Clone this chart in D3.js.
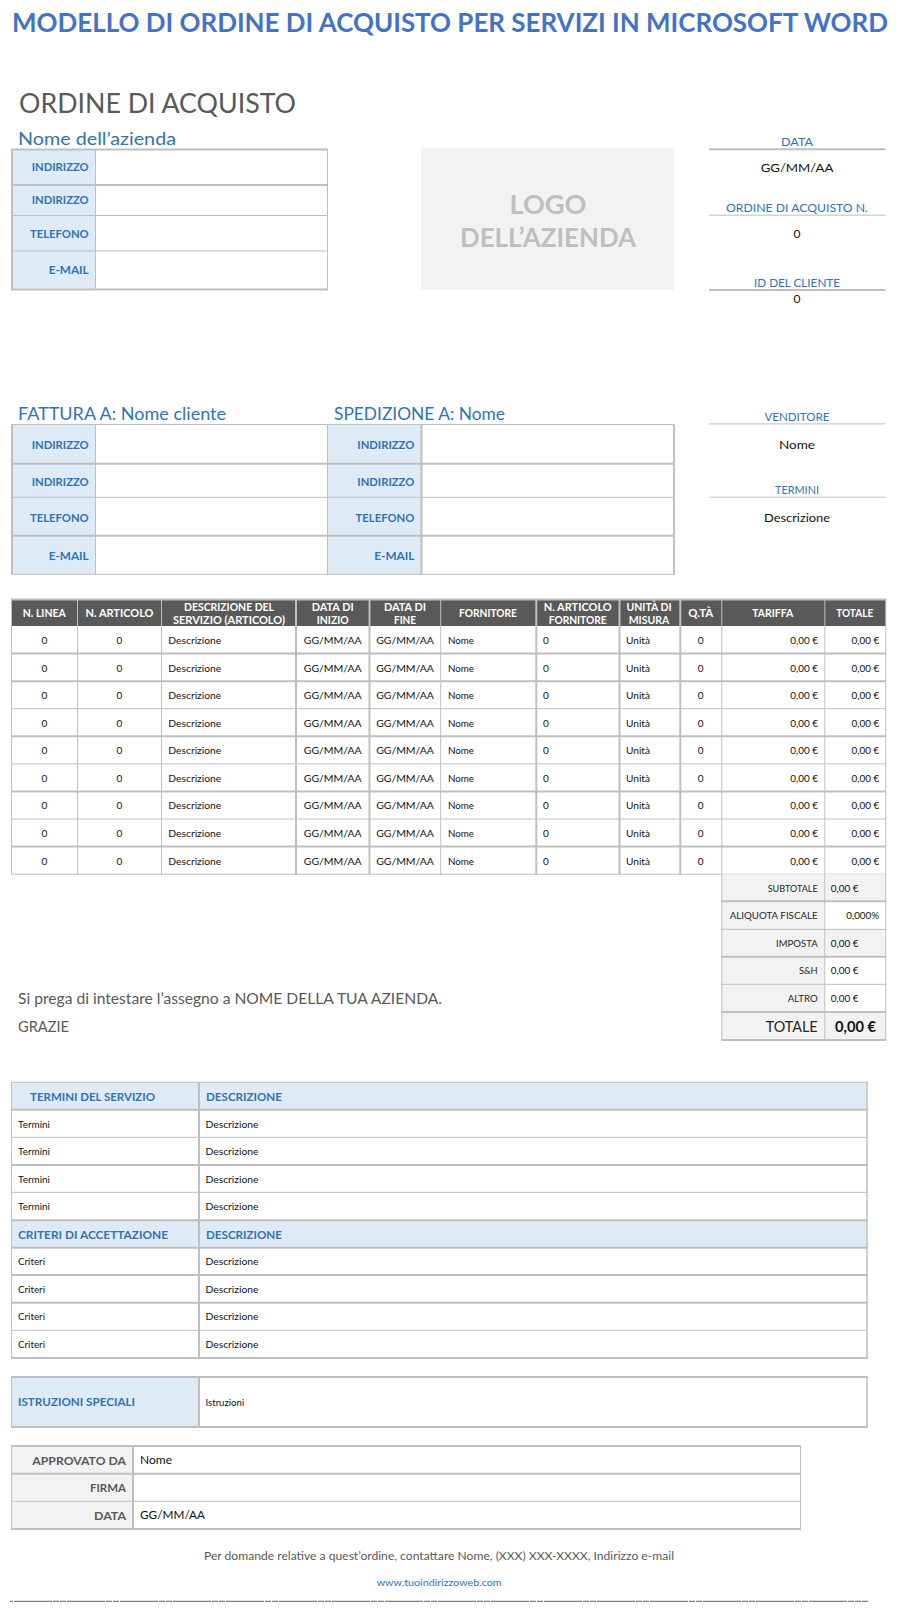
<!DOCTYPE html>
<html>
<head>
<meta charset="utf-8">
<title>Ordine di acquisto</title>
<script src="https://cdn.jsdelivr.net/npm/d3@7"></script>
<style>
html, body { margin: 0; padding: 0; background: #fff; }
svg { display: block; }
text { font-family: Lato, "Open Sans", sans-serif; }
</style>
</head>
<body>
<script>
// Contents of the form
var pageTitle = "MODELLO DI ORDINE DI ACQUISTO PER SERVIZI IN MICROSOFT WORD";
var contactLabels = ["INDIRIZZO", "INDIRIZZO", "TELEFONO", "E-MAIL"];
var orderColumns = [["N. LINEA"], ["N. ARTICOLO"], ["DESCRIZIONE DEL", "SERVIZIO (ARTICOLO)"], ["DATA DI", "INIZIO"], ["DATA DI", "FINE"],
    ["FORNITORE"], ["N. ARTICOLO", "FORNITORE"], ["UNITÀ DI", "MISURA"], ["Q.TÀ"], ["TARIFFA"], ["TOTALE"]];
var orderRow = ["0", "0", "Descrizione", "GG/MM/AA", "GG/MM/AA", "Nome", "0", "Unità", "0", "0,00 €", "0,00 €"];
var orderRowCount = 9;
var totalLabels = ["SUBTOTALE", "ALIQUOTA FISCALE", "IMPOSTA", "S&H", "ALTRO"];
var totalValues = ["0,00 €", "0,000%", "0,00 €", "0,00 €", "0,00 €"];
var termsRows = ["Termini", "Termini", "Termini", "Termini"];
var criteriaRows = ["Criteri", "Criteri", "Criteri", "Criteri"];
var approvalLabels = ["APPROVATO DA", "FIRMA", "DATA"];
var approvalValues = ["Nome", "", "GG/MM/AA"];

var BLUE = "#2E74B5", GREY = "#BFBFBF", DARK = "#595959", PALE = "#DEEAF6", SHADE = "#F2F2F2";

// Widths the strings take in the original, by font size. Lato has to be stretched to them.
var inkWidth = {
    10: { "Descrizione": 53, "GG/MM/AA": 57.7, "Nome": 26, "Unità": 24, "0,00 €": 27.7, "Termini": 32, "Criteri": 27, "Istruzioni": 38.7,
          "SUBTOTALE": 50, "ALIQUOTA FISCALE": 88, "IMPOSTA": 41.7, "S&H": 18.7, "ALTRO": 30, "0,000%": 32.7 },
    11: { "N. LINEA": 43, "N. ARTICOLO": 68, "DESCRIZIONE DEL": 90, "SERVIZIO (ARTICOLO)": 112, "DATA DI": 42, "INIZIO": 32, "FINE": 22,
          "FORNITORE": 58, "UNITÀ DI": 45, "MISURA": 40.7, "Q.TÀ": 25, "TARIFFA": 41, "TOTALE": 37, "Nome": 32, "GG/MM/AA": 65 },
    12: { "INDIRIZZO": 57, "TELEFONO": 58.7, "E-MAIL": 40, "DATA": 32, "ORDINE DI ACQUISTO N.": 142, "ID DEL CLIENTE": 86, "VENDITORE": 65,
          "TERMINI": 44, "GG/MM/AA": 72.7, "Nome": 36, "Descrizione": 66, "APPROVATO DA": 93.7, "FIRMA": 36 }
};

var svg = d3.select("body").append("svg")
    .attr("width", 897)
    .attr("height", 1621)
    .attr("viewBox", "0 0 897 1621");

function label(x, y, str, o) {
    o = o || {};
    var size = o.size || 10;
    var t = svg.append("text")
        .attr("x", x)
        .attr("y", y)
        .attr("text-anchor", o.anchor || "start")
        .style("font-size", size + "px")
        .style("font-weight", o.bold ? 700 : 400)
        .style("fill", o.color || "#111")
        .text(str);
    var w = o.width || (inkWidth[size] && inkWidth[size][str]);
    if (w) t.attr("textLength", w).attr("lengthAdjust", "spacingAndGlyphs");
    return t;
}

function box(x0, y0, x1, y1, fill) {
    svg.append("rect")
        .attr("x", x0)
        .attr("y", y0)
        .attr("width", x1 - x0)
        .attr("height", y1 - y0)
        .attr("fill", fill);
}

function rule(x0, y0, x1, y1, w, color) {
    return svg.append("line")
        .attr("x1", x0)
        .attr("y1", y0)
        .attr("x2", x1)
        .attr("y2", y1)
        .attr("stroke", color || GREY)
        .attr("stroke-width", w || 1);
}

// xs/ys are the grid lines, xw/yw their thickness
function grid(xs, ys, xw, yw) {
    ys.forEach(function(y, i) { rule(xs[0] - xw[0] / 2, y, xs[xs.length - 1] + xw[xw.length - 1] / 2, y, yw[i]); });
    xs.forEach(function(x, i) { rule(x, ys[0], x, ys[ys.length - 1], xw[i]); });
}

// Page title and company block
label(12, 32, pageTitle, { size: 26, bold: true, color: "#4472C4", width: 876 });
label(19, 112.5, "ORDINE DI ACQUISTO", { size: 26, color: DARK, width: 277 });
label(18, 145, "Nome dell’azienda", { size: 18, color: BLUE, width: 158 });

box(11, 149, 95.5, 290, PALE);
grid([12, 95.5, 327.5], [149.5, 185, 215.5, 251, 289.5], [2, 1, 1], [2, 2, 1, 1, 2]);
[171, 204, 237.5, 274].forEach(function(y, i) {
    label(88.7, y, contactLabels[i], { size: 12, bold: true, color: BLUE, anchor: "end" });
});

box(421, 148, 674.5, 290, SHADE);
label(548, 213.5, "LOGO", { size: 26, bold: true, color: GREY, anchor: "middle", width: 77 });
label(548, 247, "DELL’AZIENDA", { size: 26, bold: true, color: GREY, anchor: "middle", width: 176 });

// Side fields at the right of the page
function sideField(title, y, lineW, value, valueY) {
    label(797, y, title, { size: 12, color: BLUE, anchor: "middle" });
    rule(709, y + 3.2, 885.5, y + 3.2, lineW);
    label(797, valueY, value, { size: 12, anchor: "middle" });
}
sideField("DATA", 146, 2, "GG/MM/AA", 172);
sideField("ORDINE DI ACQUISTO N.", 212, 1, "0", 238);
sideField("ID DEL CLIENTE", 286.7, 2, "0", 303);
sideField("VENDITORE", 420.7, 1, "Nome", 449);
sideField("TERMINI", 494, 1, "Descrizione", 521.7);

// Bill to / ship to
label(18, 420, "FATTURA A: Nome cliente", { size: 18, color: BLUE, width: 208 });
label(334, 420, "SPEDIZIONE A: Nome", { size: 18, color: BLUE, width: 171 });
box(11, 424, 95.5, 574, PALE);
box(327.5, 424, 421, 574, PALE);
grid([12, 95.5, 327.5, 421.5, 674], [424.5, 463.7, 497.3, 535.7, 574.3], [2, 1, 1, 2, 2], [1, 2, 1, 2, 1]);
[449, 486, 522, 560].forEach(function(y, i) {
    label(88.7, y, contactLabels[i], { size: 12, bold: true, color: BLUE, anchor: "end" });
    label(414.3, y, contactLabels[i], { size: 12, bold: true, color: BLUE, anchor: "end" });
});

// Order lines
var colEdge = d3.scaleOrdinal().domain(d3.range(12))
    .range([11.5, 77.5, 161.5, 296, 369.5, 440.7, 536.3, 619.5, 680.3, 721.8, 824.8, 885.8]);
var rowEdge = d3.scaleLinear().domain([0, orderRowCount]).range([626, 874.2]);
var edgeW = [1, 1, 1, 2, 2, 1, 2, 2, 2, 1, 1, 1];
var headMid = [44.3, 119.5, 229, 332.7, 405, 488, 577.7, 649, 700.7, 772.7, 854.7];
var cellAnchor = ["middle", "middle", "start", "middle", "middle", "start", "start", "start", "middle", "end", "end"];
var cellX = [44.3, 119.5, 168.3, 332.7, 405, 448, 543, 626, 700.7, 818, 879.3];
var rowW = [2, 2, 1, 2, 1, 2, 1, 2, 1];

box(11.5, 600, 885.8, 626, DARK);
rule(11, 599.5, 886.3, 599.5, 2);
rowW.forEach(function(w, i) { rule(11.5, rowEdge(i + 1), 885.8, rowEdge(i + 1), w); });
d3.range(12).forEach(function(i) { rule(colEdge(i), 599, colEdge(i), 874.5, edgeW[i]); });

orderColumns.forEach(function(lines, c) {
    var ys = lines.length > 1 ? [610.7, 624.3] : [617];
    lines.forEach(function(s, k) {
        label(headMid[c], ys[k], s, { size: 11, bold: true, color: "#fff", anchor: "middle" });
    });
});
d3.range(orderRowCount).forEach(function(r) {
    orderRow.forEach(function(v, c) {
        label(cellX[c], rowEdge(r) + 18, v, { size: 10, anchor: cellAnchor[c] });
    });
});

// Totals
var totalEdge = [874.2, 901.3, 929.3, 956.7, 984.3, 1012, 1040];
var totalRuleW = [2, 1, 2, 1, 2, 2];
box(721.8, 874.2, 824.8, 1040, SHADE);
box(824.8, 874.2, 885.8, 901.3, SHADE);
box(824.8, 929.3, 885.8, 956.7, SHADE);
box(824.8, 1012, 885.8, 1040, SHADE);
totalRuleW.forEach(function(w, i) { rule(721.3, totalEdge[i + 1], 886.3, totalEdge[i + 1], w); });
[721.8, 824.8, 885.8].forEach(function(x) { rule(x, 874.2, x, 1040, 1); });
totalLabels.forEach(function(s, i) {
    var y = totalEdge[i] + 17.5;
    label(817.7, y, s, { size: 10, color: "#262626", anchor: "end" });
    if (i == 1) label(879, y, totalValues[i], { size: 10, anchor: "end" });
    else label(830.7, y, totalValues[i], { size: 10, width: 27.7 });
});
label(817.7, 1031.7, "TOTALE", { size: 16, color: "#262626", anchor: "end", width: 52 });
label(835, 1031.7, "0,00 €", { size: 15, bold: true, width: 41 });

label(18, 1003.8, "Si prega di intestare l’assegno a NOME DELLA TUA AZIENDA.", { size: 14.5, color: DARK, width: 424 });
label(18, 1031.7, "GRAZIE", { size: 14.5, color: DARK, width: 51 });

// Terms and acceptance criteria
var termEdge = [1082.3, 1109.7, 1137.3, 1165, 1192.3, 1220.3, 1247.7, 1275, 1302.7, 1330.3, 1358];
box(11.5, 1082.3, 867, 1109.7, PALE);
box(11.5, 1220.3, 867, 1247.7, PALE);
grid([11.5, 199, 867], termEdge, [1, 2, 1.5], [1, 2, 1, 2, 1, 2, 2, 2, 2, 1, 2]);
label(30, 1101, "TERMINI DEL SERVIZIO", { size: 12, bold: true, color: BLUE, width: 125 });
label(206, 1101, "DESCRIZIONE", { size: 12, bold: true, color: BLUE, width: 76 });
label(18, 1239, "CRITERI DI ACCETTAZIONE", { size: 12, bold: true, color: BLUE, width: 150 });
label(206, 1239, "DESCRIZIONE", { size: 12, bold: true, color: BLUE, width: 76 });
termsRows.forEach(function(s, i) {
    label(18, termEdge[i + 1] + 18, s, { size: 10 });
    label(205.5, termEdge[i + 1] + 18, "Descrizione", { size: 10 });
});
criteriaRows.forEach(function(s, i) {
    label(18, termEdge[i + 6] + 17.5, s, { size: 10 });
    label(205.5, termEdge[i + 6] + 17.5, "Descrizione", { size: 10 });
});

// Special instructions
box(11.5, 1377, 199, 1427, PALE);
grid([11.5, 199, 867], [1377, 1427], [1, 2, 1.5], [2, 2]);
label(18, 1406, "ISTRUZIONI SPECIALI", { size: 12, bold: true, color: BLUE, width: 117 });
label(205.5, 1406, "Istruzioni", { size: 10 });

// Approval block
var apprEdge = [1446, 1473.7, 1501.3, 1529];
box(11.5, 1446, 133, 1529, SHADE);
grid([11.5, 133, 800.5], apprEdge, [1, 2, 1], [2, 2, 1, 2]);
approvalLabels.forEach(function(s, i) {
    label(126, apprEdge[i] + 18.7, s, { size: 12, bold: true, color: DARK, anchor: "end" });
    if (approvalValues[i]) label(140, apprEdge[i] + 17.7, approvalValues[i], { size: 11 });
});

// Footer
label(204, 1560, "Per domande relative a quest’ordine, contattare Nome, (XXX) XXX-XXXX, Indirizzo e-mail", { size: 11, color: DARK, width: 470 });
label(376.7, 1586, "www.tuoindirizzoweb.com", { size: 10, color: BLUE, width: 125 });
rule(10, 1601.3, 868, 1601.3, 1.3, "#7F7F7F")
    .attr("stroke-dasharray", "38 1 6 1 6 1")
    .attr("stroke-dashoffset", 49);
</script>
</body>
</html>
